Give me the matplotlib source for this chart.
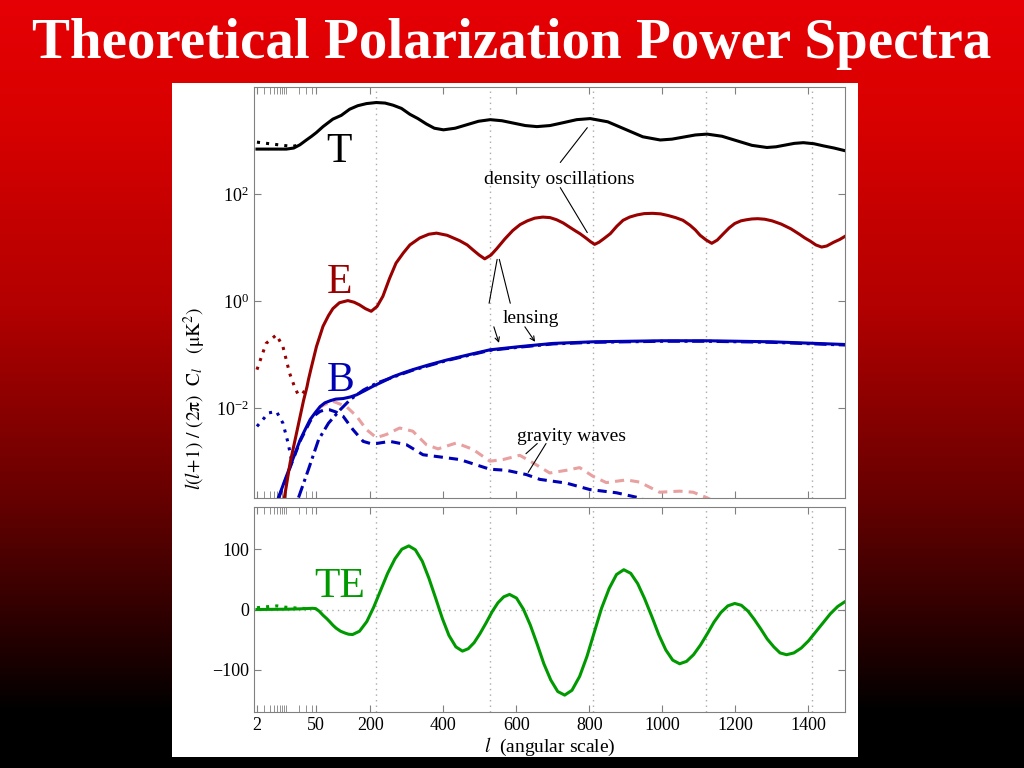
import numpy as np
import matplotlib
matplotlib.use("Agg")
import matplotlib.pyplot as plt
from matplotlib.patches import Rectangle
from matplotlib.colors import LinearSegmentedColormap

plt.rcParams['font.family'] = ['Liberation Serif', 'DejaVu Serif']
plt.rcParams['mathtext.fontset'] = 'stix'

# ---- data (l, log10 of l(l+1)C_l/2pi) ----
T_l = [2, 5, 10, 15, 21, 30, 40, 52, 70, 97, 120, 143, 165, 189, 216, 240, 262, 285, 308, 330,
       353, 375, 400, 432, 464, 496, 528, 560, 592, 624, 656, 692, 729, 765, 802, 850, 898, 946,
       994, 1026, 1058, 1090, 1122, 1163, 1204, 1245, 1286, 1311, 1336, 1361, 1386, 1415, 1441,
       1470, 1500]
T_v = [2.84, 2.84, 2.84, 2.86, 2.92, 3.01, 3.08, 3.15, 3.26, 3.40, 3.47, 3.585, 3.65, 3.69, 3.71,
       3.70, 3.66, 3.60, 3.49, 3.41, 3.31, 3.23, 3.20, 3.23, 3.295, 3.36, 3.39, 3.37, 3.325, 3.28,
       3.26, 3.28, 3.335, 3.39, 3.41, 3.35, 3.21, 3.07, 3.01, 3.026, 3.065, 3.104, 3.12, 3.08,
       2.995, 2.91, 2.87, 2.883, 2.915, 2.947, 2.96, 2.94, 2.90, 2.86, 2.81]
Tre_l = [2, 4, 8.3, 14, 21]
Tre_v = [2.97, 2.94, 2.91, 2.89, 2.92]

E_l = [9, 12.3, 17, 25.6, 31, 33.5, 39, 52, 70, 85, 97, 115, 138, 155, 170, 186, 202, 218, 234,
       252, 270, 290, 308, 335, 360, 381, 410, 444, 465, 482, 498, 513, 530, 546, 568, 590, 610,
       630, 650, 672, 692, 710, 728, 746, 762, 774, 790, 803, 814, 826, 840, 857, 875, 892, 910,
       930, 950, 973, 995, 1015, 1036, 1056, 1075, 1090, 1103, 1120, 1135, 1150, 1167, 1183,
       1198, 1215, 1230, 1245, 1261, 1280, 1300, 1325, 1352, 1375, 1390, 1405, 1420, 1436, 1450,
       1469, 1485, 1500]
E_v = [-3.67, -3.02, -2.51, -1.86, -1.60, -1.47, -1.25, -0.85, -0.47, -0.27, -0.14, -0.03, 0.01,
       -0.02, -0.07, -0.14, -0.19, -0.10, 0.09, 0.42, 0.71, 0.90, 1.05, 1.18, 1.25, 1.27, 1.23,
       1.13, 1.05, 0.95, 0.86, 0.79, 0.86, 0.98, 1.16, 1.32, 1.43, 1.50, 1.55, 1.57, 1.56, 1.52,
       1.46, 1.38, 1.31, 1.26, 1.18, 1.11, 1.06, 1.10, 1.17, 1.26, 1.40, 1.51, 1.57, 1.61, 1.635,
       1.64, 1.63, 1.60, 1.56, 1.51, 1.42, 1.33, 1.23, 1.14, 1.08, 1.14, 1.26, 1.37, 1.45, 1.50,
       1.52, 1.535, 1.54, 1.53, 1.50, 1.44, 1.35, 1.25, 1.18, 1.12, 1.05, 1.01, 1.03, 1.10, 1.15,
       1.21]
Ere_l = [2, 3.3, 5.8, 8.3, 12, 16, 19, 24, 31]
Ere_v = [-1.28, -0.79, -0.63, -0.85, -1.35, -1.62, -1.74, -1.74, -1.60]

B_l = [6.5, 9, 12.4, 16, 21.4, 28, 37, 48, 62, 75, 90, 105, 125, 145, 162, 185, 207, 235, 262,
       290, 316, 360, 409, 470, 527, 608, 700, 809, 1000, 1121, 1300, 1500]
B_v = [-3.67, -3.37, -3.08, -2.85, -2.59, -2.40, -2.21, -2.09, -1.97, -1.90, -1.86, -1.83, -1.82,
       -1.79, -1.75, -1.67, -1.59, -1.50, -1.41, -1.34, -1.28, -1.19, -1.10, -1.00, -0.91, -0.85,
       -0.79, -0.76, -0.74, -0.74, -0.76, -0.81]
Bre_l = [2, 3, 3.7, 5.8, 8.3, 11, 13.5]
Bre_v = [-2.34, -2.18, -2.09, -2.06, -2.28, -2.65, -3.00]

Blens_l = [19.5, 33.7, 57.7, 85, 117, 144.5, 181, 217.7, 262, 316, 409, 527, 608, 700, 809,
           1000, 1121, 1300, 1500]
Blens_v = [-3.67, -3.14, -2.59, -2.28, -2.03, -1.84, -1.66, -1.53, -1.42, -1.29, -1.11, -0.92,
           -0.86, -0.80, -0.77, -0.75, -0.75, -0.77, -0.82]

Bgw_l = [6.5, 12.4, 21.4, 37, 50, 62, 75, 88, 105, 125, 152, 180, 200, 216, 253, 298, 344, 390,
         445, 527, 572, 627, 664, 737, 801, 874, 946]
Bgw_v = [-3.69, -3.10, -2.61, -2.24, -2.12, -2.06, -2.03, -2.03, -2.07, -2.15, -2.40, -2.62,
         -2.66, -2.66, -2.62, -2.68, -2.87, -2.91, -2.96, -3.14, -3.16, -3.24, -3.33, -3.40, -3.52,
         -3.58, -3.69]

Egw_l = [60, 75, 97, 134, 162, 189, 216, 244, 280, 316, 353, 385, 435, 481, 527, 563, 609, 645,
         691, 737, 773, 809, 846, 901, 937, 992, 1047, 1084, 1121, 1135]
Egw_v = [-1.99, -1.93, -1.87, -1.97, -2.15, -2.40, -2.55, -2.49, -2.37, -2.43, -2.68, -2.76,
         -2.65, -2.77, -2.99, -2.96, -2.88, -3.02, -3.21, -3.16, -3.11, -3.27, -3.39, -3.34, -3.38,
         -3.57, -3.55, -3.57, -3.67, -3.72]

TE_l = [2, 10, 20, 30, 42, 50, 60, 70, 80, 88, 97, 106, 118, 130, 140, 151,
        170, 190, 209, 228, 247, 267, 286, 305,
        323, 342, 360, 379, 397, 415, 434, 452,
        468, 484, 500, 517, 533, 549, 565, 581,
        600, 619, 638, 657, 675, 694, 713, 732,
        752, 773, 793, 813, 833, 854, 874, 894,
        913, 932, 951, 971, 990, 1009, 1028, 1047,
        1066, 1085, 1104, 1123, 1141, 1160, 1179, 1198,
        1216, 1234, 1251, 1269, 1287, 1305, 1322, 1340,
        1360, 1380, 1400, 1420, 1440, 1460, 1480, 1500]
TE_v = [0, 0.5, 1, 1.5, 2, 1.5, -3, -9.5, -15, -20, -26, -31, -36, -39, -41, -41.5,
        -36, -20, 4, 32, 60, 84, 100, 105.5,
        99, 80, 52, 18, -15, -43, -62, -69,
        -65, -55, -40, -22, -4, 11, 21, 25,
        19, 0.5, -26, -58, -90, -117, -136, -142,
        -134, -111, -78, -38, 2, 35, 58, 66,
        60, 43, 18, -12, -42, -67, -84, -90,
        -86, -75, -59, -40, -21, -5, 6, 10,
        7, -2.5, -16, -32, -49, -62, -72, -75,
        -72, -64, -52, -37, -22, -7, 5, 13]
TEre_l = [2, 4, 6, 9, 14, 20, 30]
TEre_v = [3, 5, 6, 4, 3, 2, 1.5]

peak_lines = [216, 528, 810, 1120, 1410]
xmajor = [2, 50, 200, 400, 600, 800, 1000, 1200, 1400]
xminor = [3, 4, 5, 6, 7, 8, 9, 10, 20, 30, 40]

C_T, C_E, C_B = 'black', '#990000', '#0000b4'
C_PINK, C_TE = '#e8a0a0', '#009900'
GREY = '#808080'


# axis: log below l=50, linear above
def fwd(x):
    x = np.asarray(x, dtype=float)
    return np.where(x < 50, 50 + 50 * np.log(np.clip(x, 1e-6, None) / 50), x)


def inv(t):
    t = np.asarray(t, dtype=float)
    return np.where(t < 50, 50 * np.exp((np.minimum(t, 50) - 50) / 50), t)


def p(v):
    return 10 ** np.asarray(v)


fig = plt.figure(figsize=(10.24, 7.68), dpi=100)

# background gradient
bg = fig.add_axes([0, 0, 1, 1], zorder=-10)
cmap = LinearSegmentedColormap.from_list('bg', [(0, (0, 0, 0)), (0.07, (0, 0, 0)),
                                                (0.15, (0.12, 0, 0)), (0.35, (0.40, 0, 0)),
                                                (0.60, (0.70, 0, 0)), (0.85, (0.85, 0, 0)),
                                                (1, (0.90, 0, 0.02))])
bg.imshow(np.linspace(0, 1, 256).reshape(-1, 1), cmap=cmap, aspect='auto',
          extent=[0, 1, 0, 1], origin='lower')
bg.set_axis_off()
fig.patches.append(Rectangle((172 / 1024, 11 / 768), 686 / 1024, 674 / 768,
                             transform=fig.transFigure, facecolor='white', edgecolor='none',
                             zorder=-5))

fig.text(0.5, 710 / 768, "Theoretical Polarization Power Spectra", ha='center', va='baseline',
         color='white', fontsize=41, fontweight='bold')

ax1 = fig.add_axes([254 / 1024, 270 / 768, 591 / 1024, 411 / 768])
ax2 = fig.add_axes([254 / 1024, 56 / 768, 591 / 1024, 205 / 768])

for ax in (ax1, ax2):
    ax.set_xscale('function', functions=(fwd, inv))
    ax.set_xlim(1.7, 1500)
    ax.set_xticks(xmajor)
    ax.set_xticks(xminor, minor=True)
    for lv in peak_lines:
        ax.axvline(lv, color='#aaaaaa', lw=1, ls=(0, (1, 3)), zorder=0)
    for s in ax.spines.values():
        s.set_color(GREY)
    ax.tick_params(which='both', direction='in', top=True, right=True, color=GREY,
                   labelsize=13, length=5)

# top panel
ax1.set_yscale('log')
ax1.set_ylim(2.1e-4, 1e4)
ax1.set_yticks([1e-2, 1, 1e2])
ax1.yaxis.set_minor_locator(matplotlib.ticker.NullLocator())
ax1.tick_params(labelbottom=False)

lw = 2.2
ax1.plot(Egw_l, p(Egw_v), color=C_PINK, lw=lw, ls=(0, (3, 2)))
ax1.plot(Bgw_l, p(Bgw_v), color=C_B, lw=lw, ls=(0, (3, 2)))
ax1.plot(Blens_l, p(Blens_v), color=C_B, lw=lw, ls=(0, (4, 1.5, 1, 1.5)))
ax1.plot(B_l, p(B_v), color=C_B, lw=lw)
ax1.plot(Bre_l, p(Bre_v), color=C_B, lw=lw, ls=(0, (1, 2)))
ax1.plot(E_l, p(E_v), color=C_E, lw=lw)
ax1.plot(Ere_l, p(Ere_v), color=C_E, lw=lw, ls=(0, (1, 2)))
ax1.plot(T_l, p(T_v), color=C_T, lw=lw)
ax1.plot(Tre_l, p(Tre_v), color=C_T, lw=lw, ls=(0, (1, 2)))

big = dict(fontsize=30, ha='center', va='baseline')
ax1.text(114, p(2.59), "T", color=C_T, **big)
ax1.text(114, p(0.15), "E", color=C_E, **big)
ax1.text(117, p(-1.67), "B", color=C_B, **big)

note = dict(fontsize=14, ha='center', va='baseline')
ax1.text(717, p(2.195), "density oscillations", **note)
ax1.text(638, p(-0.41), "lensing", **note)
ax1.text(751, p(-2.605), "gravity waves", **note)

thin = dict(arrowstyle='-', color='black', lw=0.8, shrinkA=0, shrinkB=0)
arr = dict(arrowstyle='->', color='black', lw=0.8, shrinkA=0, shrinkB=0,
           mutation_scale=8)
segs = [((720, 2.59), (794, 3.24), thin), ((720, 2.12), (794, 1.28), thin),
        ((547, 0.78), (525, -0.04), thin), ((553, 0.78), (583, -0.04), thin),
        ((538, -0.48), (552, -0.78), arr), ((623, -0.48), (651, -0.76), arr),
        ((657, -2.66), (626, -2.85), thin), ((681, -2.66), (632, -3.20), thin)]
for (x0, y0), (x1, y1), st in segs:
    ax1.annotate("", xy=(x1, p(y1)), xytext=(x0, p(y0)), arrowprops=st)

# bottom panel
ax2.set_ylim(-170, 170)
ax2.set_yticks([-100, 0, 100])
ax2.set_xticklabels([str(v) for v in xmajor])
ax2.axhline(0, color='#aaaaaa', lw=1, ls=(0, (1, 3)), zorder=0)
ax2.plot(TEre_l, TEre_v, color=C_TE, lw=lw, ls=(0, (1, 2)))
ax2.plot(TE_l, TE_v, color=C_TE, lw=lw)
ax2.text(117, 20.4, "TE", color=C_TE, **big)

fig.text(549.5 / 1024, 16 / 768, r"$l$  (angular scale)", ha='center', va='baseline',
         fontsize=14)
fig.text(195 / 1024, 370 / 768,
         r"$l(l\!+\!1)\ /\ (2\mathrm{π})\ \ \mathrm{C}_{l}\ \ \ (\mathrm{μK}^{2})$",
         rotation=90, ha='center', va='center', fontsize=14)

fig.savefig("out.png", dpi=100)
